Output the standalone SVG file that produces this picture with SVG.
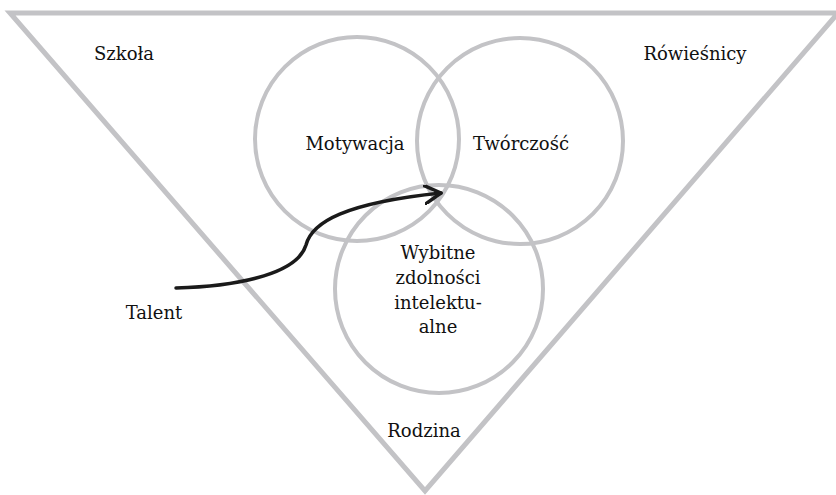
<svg xmlns="http://www.w3.org/2000/svg" width="836" height="495" viewBox="0 0 836 495">
<style>
.frame{fill:none;stroke:#c3c3c6;stroke-width:5;stroke-linejoin:miter}
.circ{fill:none;stroke:#c3c3c6;stroke-width:4}
.lbl{font-family:"DejaVu Serif","Liberation Serif",serif;font-size:18px;fill:#111;text-anchor:middle}
.arrow{fill:none;stroke:#1a1a1a;stroke-width:3.5;stroke-linecap:round}
</style>
<defs>
<marker id="chev" viewBox="0 0 20 20" refX="17" refY="10" markerWidth="20" markerHeight="20" markerUnits="userSpaceOnUse" orient="auto">
<path d="M1,1 L17,10 L1,19" fill="none" stroke="#1a1a1a" stroke-width="3.5" stroke-linecap="round" stroke-linejoin="round"/>
</marker>
</defs>
<rect width="836" height="495" fill="#fff"/>
<g id="environment">
<path class="frame" d="M10,13 L838,13 L425,491 Z"/>
<text class="lbl" x="124" y="60">Szkoła</text>
<text class="lbl" x="695" y="60">Rówieśnicy</text>
<text class="lbl" x="424" y="437">Rodzina</text>
</g>
<g id="motywacja">
<circle class="circ" cx="357" cy="139" r="102"/>
<text class="lbl" x="355" y="150">Motywacja</text>
</g>
<g id="tworczosc">
<circle class="circ" cx="520" cy="141" r="103"/>
<text class="lbl" x="521" y="150">Twórczość</text>
</g>
<g id="zdolnosci">
<circle class="circ" cx="439" cy="289" r="104"/>
<text class="lbl" x="438" y="259">Wybitne</text>
<text class="lbl" x="438" y="284">zdolności</text>
<text class="lbl" x="438" y="309">intelektu-</text>
<text class="lbl" x="438" y="333">alne</text>
</g>
<g id="talent">
<text class="lbl" x="154" y="319">Talent</text>
</g>
<g id="connectors">
<path class="arrow" d="M176,288 C245,286 298,272 306,245 C312,222 345,203 441,193" marker-end="url(#chev)"/>
</g>
</svg>
